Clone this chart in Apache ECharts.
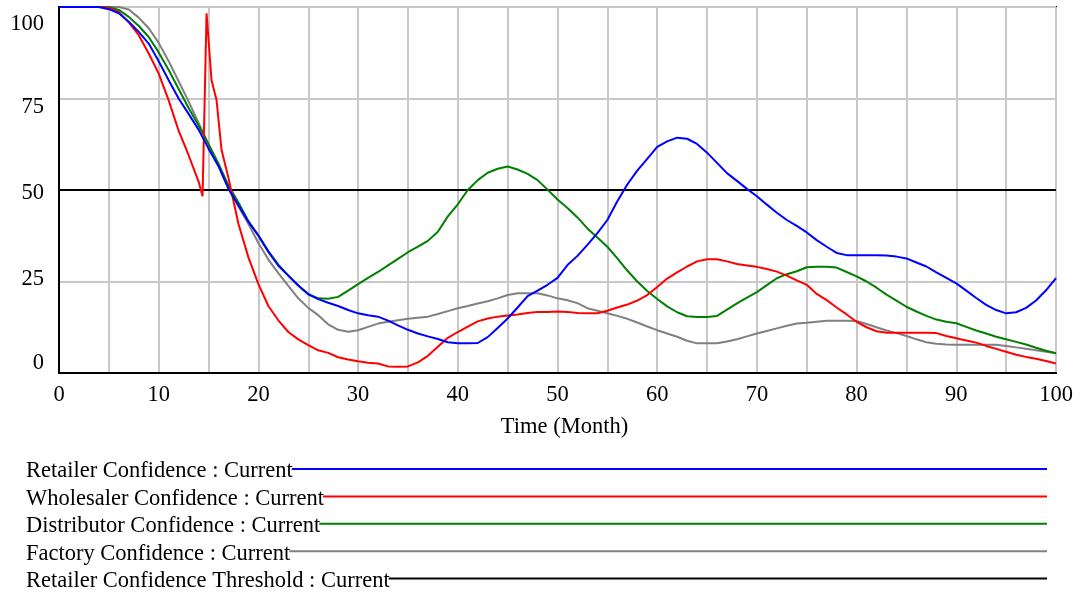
<!DOCTYPE html>
<html>
<head>
<meta charset="utf-8">
<script src="https://cdn.jsdelivr.net/npm/echarts@6/dist/echarts.min.js"></script>
<style>
  html, body { margin: 0; padding: 0; background: #fff; }
  #chart { width: 1081px; height: 595px; }
</style>
</head>
<body>
<div id="chart"></div>
<script>
// time axis (months), one point per month
const months = [];
for (let m = 0; m <= 100; m++) months.push(m);

const xTicks = [0, 10, 20, 30, 40, 50, 60, 70, 80, 90, 100];
const yTicks = [0, 25, 50, 75, 100];

const retailer = [
  100, 100, 100, 100, 100, 99.4, 98.3, 96, 93.2, 90,
  85.2, 80, 75, 70.8, 66.5, 61.3, 56.5, 50.3, 45.8, 41.3,
  37.5, 33.1, 29.3, 26.6, 23.9, 21.5, 20.2, 19.2, 18.3, 17.2,
  16.3, 15.8, 15.4, 14.3, 13, 11.8, 10.8, 10, 9.3, 8.4,
  8.1, 8.1, 8.2, 9.8, 12.3, 14.9, 17.9, 21, 22.5, 24.1,
  26, 29.5, 32, 35, 38.2, 41.8, 46.9, 51.5, 55.3, 58.5,
  61.8, 63.3, 64.3, 64, 62.6, 60.2, 57.4, 54.6, 52.5, 50.3,
  48.3, 46, 43.8, 41.8, 40.2, 38.4, 36.3, 34.5, 32.8, 32.2,
  32.2, 32.2, 32.2, 32.1, 31.8, 31.3, 30.2, 29.1, 27.5, 26,
  24.5, 22.5, 20.5, 18.6, 17.2, 16.3, 16.6, 17.8, 19.8, 22.6,
  25.9
];

// wholesaler has its own time points around the spike near month 15
const wholesalerMonths = [
  0, 1, 2, 3, 4, 5, 6, 7, 8, 9, 10, 11, 12, 13, 14,
  14.4, 14.8, 15.3, 15.8, 16.3,
  17, 18, 19, 20, 21, 22, 23, 24, 25, 26, 27, 28, 29, 30,
  31, 32, 33, 34, 35, 36, 37, 38, 39, 40, 41, 42, 43, 44, 45,
  46, 47, 48, 49, 50, 51, 52, 53, 54, 55, 56, 57, 58, 59, 60,
  61, 62, 63, 64, 65, 66, 67, 68, 69, 70, 71, 72, 73, 74, 75,
  76, 77, 78, 79, 80, 81, 82, 83, 84, 85, 86, 87, 88, 89, 90,
  91, 92, 93, 94, 95, 96, 97, 98, 99, 100
];
const wholesaler = [
  100, 100, 100, 100, 100, 99.8, 98.6, 95.8, 92.3, 87.3, 81.8, 74.5, 66.2, 59.5, 52.3,
  48.3, 98.3, 80, 74.6, 61,
  53.3, 40.7, 31.6, 24.3, 18.3, 14.4, 11.2, 9.2, 7.6, 6.2, 5.5, 4.3, 3.7, 3.2,
  2.8, 2.6, 1.8, 1.7, 1.8, 2.9, 4.7, 7.2, 9.6, 11.2, 12.7, 14.1, 14.9, 15.4, 15.7,
  16, 16.4, 16.7, 16.7, 16.8, 16.7, 16.4, 16.3, 16.3, 17, 17.9, 18.7, 19.8, 21.3, 23.5,
  25.8, 27.5, 29.1, 30.5, 31.1, 31.1, 30.5, 29.8, 29.4, 29, 28.4, 27.7, 26.6, 25.3, 24.1,
  21.6, 19.9, 17.9, 16, 14, 12.5, 11.4, 11, 11, 11, 11, 11, 10.9, 10.1, 9.5,
  8.9, 8.3, 7.4, 6.6, 5.8, 5, 4.4, 3.9, 3.3, 2.6
];

const distributor = [
  100, 100, 100, 100, 100, 100, 99.2, 97.3, 94.8, 91.8,
  87.6, 82.8, 77.6, 72.4, 67.6, 62.5, 57.2, 51.2, 46.6, 41.5,
  37.6, 33.3, 29.6, 26.6, 23.9, 21.6, 20.4, 20.3, 20.8, 22.5,
  24.3, 26, 27.6, 29.4, 31.2, 33, 34.5, 36.1, 38.6, 42.8,
  46.1, 50, 52.7, 54.7, 55.8, 56.4, 55.6, 54.4, 52.7, 50.1,
  47.4, 45.1, 42.5, 39.5, 37, 34.5, 31.3, 28, 25, 22.4,
  20.2, 18.2, 16.6, 15.5, 15.3, 15.3, 15.6, 17.3, 19, 20.6,
  22.1, 24, 25.9, 27, 27.8, 28.9, 29, 29, 28.8, 27.6,
  26.4, 25, 23.3, 21.4, 19.8, 18.1, 16.8, 15.6, 14.6, 14,
  13.6, 12.6, 11.6, 10.8, 9.9, 9.2, 8.5, 7.8, 6.9, 6.1,
  5.4
];

const factory = [
  100, 100, 100, 100, 100, 100, 100, 99.3, 97.1, 94.2,
  90.2, 85.2, 79.7, 74.2, 68.3, 62.5, 56.5, 50.5, 45.5, 40.7,
  35.5, 31, 27.3, 23.8, 20.4, 17.8, 15.8, 13.3, 11.8, 11.3,
  11.7, 12.6, 13.5, 14, 14.4, 14.8, 15.1, 15.4, 16.1, 16.9,
  17.7, 18.3, 19, 19.6, 20.4, 21.3, 21.8, 21.8, 21.8, 21.2,
  20.4, 19.9, 19.1, 17.7, 17, 16.3, 15.6, 14.8, 13.8, 12.7,
  11.7, 10.8, 9.9, 8.8, 8.1, 8.1, 8.1, 8.6, 9.2, 10,
  10.8, 11.5, 12.2, 12.9, 13.5, 13.7, 14, 14.3, 14.3, 14.3,
  14.2, 13.4, 12.5, 11.6, 10.9, 10.1, 9.2, 8.4, 8, 7.8,
  7.7, 7.7, 7.7, 7.7, 7.7, 7.4, 7, 6.6, 6.2, 5.8,
  5.4
];

const thresholdMonths = [0, 100];
const threshold = [50, 50];

const seriesNames = [
  'Retailer Confidence : Current',
  'Wholesaler Confidence : Current',
  'Distributor Confidence : Current',
  'Factory Confidence : Current',
  'Retailer Confidence Threshold : Current'
];
const seriesColors = ['#0000ff', '#ff0000', '#008000', '#808080', '#000000'];

function pairs(xs, ys) {
  return xs.map((x, i) => [x, ys[i]]);
}

const FONT = 'Liberation Serif, Times New Roman, serif';
const FS = 22.5;
const chart = echarts.init(document.getElementById('chart'));

// measure legend text widths so the swatch line starts right where the text ends
const ctx = document.createElement('canvas').getContext('2d');
ctx.font = FS + 'px "Liberation Serif"';

const legendTop = 471.5;
const legendGap = 27.4;
const legendLeft = 26;
const legendRight = 1047;
const legendGraphics = [];
seriesNames.forEach((name, i) => {
  const y = legendTop + i * legendGap;
  const w = ctx.measureText(name).width;
  legendGraphics.push({
    type: 'line',
    shape: { x1: legendLeft + w - 1, y1: y - 2.5, x2: legendRight, y2: y - 2.5 },
    style: { stroke: seriesColors[i], lineWidth: 2 }
  });
  legendGraphics.push({
    type: 'text',
    x: legendLeft,
    y: y,
    style: { text: name, font: FS + 'px ' + FONT, fill: '#000', verticalAlign: 'middle' }
  });
});

// the y labels sit a little off their grid lines, spread evenly between the ends
const labelShift = {
  100: { padding: [34, 0, 0, 0] },
  75: { padding: [18, 0, 0, 0] },
  50: { padding: [6, 0, 0, 0] },
  25: { padding: [0, 0, 4, 0] },
  0: { padding: [0, 0, 20, 0] }
};
const rich = {};
yTicks.forEach(v => { rich['s' + v] = labelShift[v]; });

const dataSets = [
  pairs(months, retailer),
  pairs(wholesalerMonths, wholesaler),
  pairs(months, distributor),
  pairs(months, factory),
  pairs(thresholdMonths, threshold)
];

const option = {
  animation: false,
  backgroundColor: '#fff',
  grid: {
    left: 59, right: 25, top: 7, bottom: 222,
    show: true, borderColor: '#000', borderWidth: 2
  },
  xAxis: {
    type: 'value', min: 0, max: 100, interval: 5,
    name: 'Time (Month)', nameLocation: 'middle', nameGap: 43,
    nameTextStyle: { color: '#000', fontFamily: FONT, fontSize: FS, padding: [0, 0, 0, 14] },
    axisLine: { show: true, onZero: false, lineStyle: { color: '#000', width: 2 } },
    axisTick: { show: false },
    axisLabel: {
      color: '#000', fontFamily: FONT, fontSize: FS, margin: 11,
      formatter: v => xTicks.includes(v) ? String(v) : ''
    },
    splitLine: { show: true, lineStyle: { color: '#c8c8c8', width: 2 } }
  },
  yAxis: {
    type: 'value', min: 0, max: 100, interval: 25,
    axisLine: { show: true, lineStyle: { color: '#000', width: 2 } },
    axisTick: { show: false },
    axisLabel: {
      color: '#000', fontFamily: FONT, fontSize: FS, margin: 15,
      formatter: v => '{s' + v + '|' + v + '}',
      rich: rich
    },
    splitLine: { show: true, lineStyle: { color: '#c8c8c8', width: 2 } }
  },
  series: dataSets.map((d, i) => ({
    name: seriesNames[i],
    type: 'line',
    data: d,
    showSymbol: false,
    symbol: 'none',
    z: i === 4 ? 1 : 5 - i + 1,
    lineStyle: { color: seriesColors[i], width: 2 },
    itemStyle: { color: seriesColors[i] }
  })),
  graphic: legendGraphics
};

chart.setOption(option);
</script>
</body>
</html>
